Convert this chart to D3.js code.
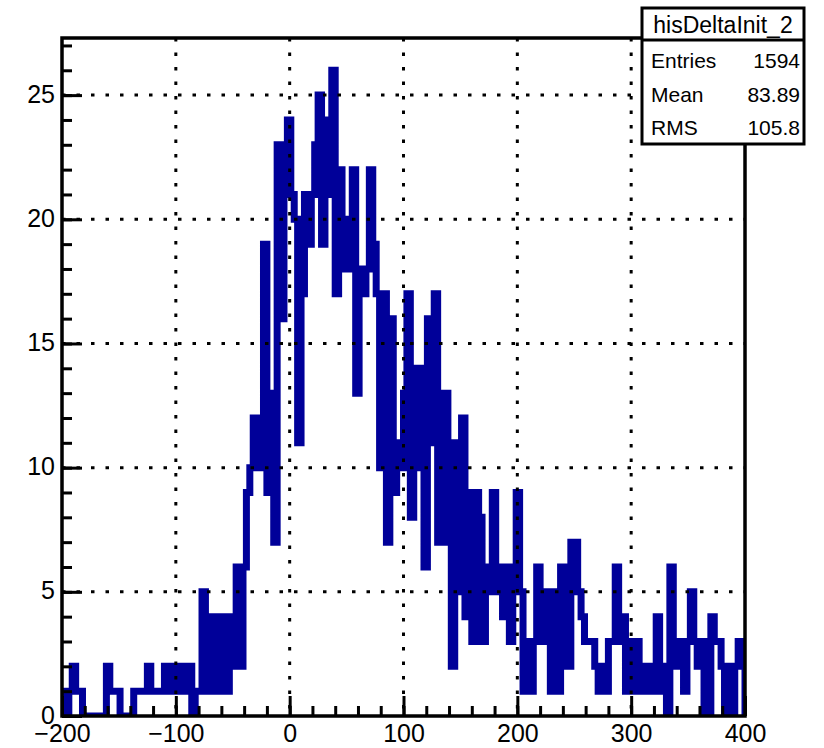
<!DOCTYPE html>
<html>
<head>
<meta charset="utf-8">
<script src="https://cdn.jsdelivr.net/npm/d3@7/dist/d3.min.js"></script>
<style>
  body { margin: 0; background: #fff; }
  text { font-family: "Liberation Sans", Arial, Helvetica, sans-serif; fill: #000; }
</style>
</head>
<body>
<svg width="824" height="748"></svg>
<script>
// histogram: 200 bins of width 3 from -200 to 400
var histName = "hisDeltaInit_2";
var xRange = [-200, 400];
var yRange = [0, 27.3];
var binWidth = 3;
var counts = [
    1, 0, 1, 2, 1, 1, 0, 0, 0, 0, 0, 0, 0, 2, 1, 1, 1, 0, 0, 0,
    0, 1, 1, 1, 1, 2, 1, 1, 1, 1, 2, 1, 2, 1, 2, 1, 2, 2, 0, 1,
    1, 5, 3, 1, 4, 1, 4, 4, 1, 4, 2, 6, 2, 6, 9, 10, 12, 10, 12, 19,
    9, 13, 7, 23, 16, 23, 24, 21, 20, 11, 17, 21, 19, 21, 23, 25, 19, 24, 21, 26,
    17, 22, 18, 20, 18, 22, 13, 18, 17, 18, 22, 19, 17, 10, 17, 7, 16, 9, 11, 10,
    13, 17, 8, 14, 10, 14, 6, 16, 11, 17, 7, 9, 13, 7, 2, 11, 5, 12, 4, 9,
    3, 9, 8, 3, 6, 5, 9, 5, 6, 4, 6, 3, 5, 9, 5, 1, 3, 1, 3, 6,
    3, 5, 3, 1, 5, 1, 6, 2, 2, 7, 7, 5, 4, 3, 3, 3, 2, 1, 2, 1,
    3, 3, 6, 3, 4, 1, 3, 1, 3, 1, 2, 1, 2, 1, 4, 2, 1, 0, 6, 3,
    2, 3, 1, 3, 5, 3, 2, 3, 0, 0, 4, 3, 3, 2, 0, 2, 0, 2, 3, 3
];
var xTicks = [-200, -100, 0, 100, 200, 300, 400];
var yTicks = [0, 5, 10, 15, 20, 25];
var xMinorStep = 20;
var yMinorStep = 1;
var statLabels = ["Entries", "Mean", "RMS"];
var statValues = ["1594", "83.89", "105.8"];

var svg = d3.select("svg"),
    margin = {top: 38, right: 79, bottom: 32, left: 62},
    width = +svg.attr("width") - margin.left - margin.right,
    height = +svg.attr("height") - margin.top - margin.bottom,
    g = svg.append("g").attr("transform", "translate(" + margin.left + "," + margin.top + ")");

var x = d3.scaleLinear().domain(xRange).range([0, width]),
    y = d3.scaleLinear().domain(yRange).range([height, 0]);

var fmt = function (d) { return d < 0 ? "\u2212" + (-d) : "" + d; };

svg.append("defs").append("clipPath").attr("id", "frame")
    .append("rect").attr("width", width).attr("height", height);

// step outline of the histogram
var pts = [[xRange[0], 0]];
counts.forEach(function (c, i) {
    var lo = xRange[0] + i * binWidth;
    pts.push([lo, c], [lo + binWidth, c]);
});
pts.push([xRange[1], 0]);

var line = d3.line()
    .x(function (d) { return x(d[0]); })
    .y(function (d) { return y(d[1]); });

g.append("path")
    .datum(pts)
    .attr("clip-path", "url(#frame)")
    .attr("d", line)
    .attr("fill", "none")
    .attr("stroke", "#000099")
    .attr("stroke-width", 7)
    .attr("stroke-linejoin", "miter");

// dotted grid on top, like ROOT
g.selectAll(".gx").data(xTicks.slice(1, -1)).enter().append("line")
    .attr("class", "gx")
    .attr("x1", function (d) { return x(d); }).attr("x2", function (d) { return x(d); })
    .attr("y1", 0).attr("y2", height);
g.selectAll(".gy").data(yTicks.slice(1)).enter().append("line")
    .attr("class", "gy")
    .attr("x1", 0).attr("x2", width)
    .attr("y1", function (d) { return y(d); }).attr("y2", function (d) { return y(d); });
g.selectAll(".gx, .gy")
    .attr("stroke", "#000")
    .attr("stroke-width", 3)
    .attr("stroke-dasharray", "3.5,11");

// minor ticks
g.append("g")
    .attr("transform", "translate(0," + height + ")")
    .call(d3.axisBottom(x).tickValues(d3.range(xRange[0], xRange[1] + 1, xMinorStep))
        .tickSizeInner(-10).tickSizeOuter(0).tickFormat(""));
g.append("g")
    .call(d3.axisLeft(y).tickValues(d3.range(0, yRange[1], yMinorStep))
        .tickSizeInner(-10).tickSizeOuter(0).tickFormat(""));

// major ticks and labels
g.append("g")
    .attr("class", "axis axis--x")
    .attr("transform", "translate(0," + height + ")")
    .call(d3.axisBottom(x).tickValues(xTicks).tickSizeInner(-20).tickSizeOuter(0)
        .tickPadding(8).tickFormat(fmt));
g.append("g")
    .attr("class", "axis axis--y")
    .call(d3.axisLeft(y).tickValues(yTicks).tickSizeInner(-20).tickSizeOuter(0)
        .tickPadding(7).tickFormat(fmt));

g.selectAll(".tick line").attr("stroke", "#000").attr("stroke-width", 3);
g.selectAll(".domain").remove();
g.selectAll(".axis text")
    .style("font-family", "'Liberation Sans', Arial, sans-serif")
    .style("font-size", "25px")
    .attr("fill", "#000");
g.selectAll(".axis--x text").attr("dy", "0.7em");
g.selectAll(".axis--y text").attr("dy", "0.28em");

// frame
g.append("rect")
    .attr("width", width).attr("height", height)
    .attr("fill", "none").attr("stroke", "#000").attr("stroke-width", 3.5);

// stats box
var box = svg.append("g").attr("transform", "translate(642,8)");
box.append("rect")
    .attr("width", 162).attr("height", 136)
    .attr("fill", "#fff").attr("stroke", "#000").attr("stroke-width", 3);
box.append("line")
    .attr("x1", 0).attr("x2", 162).attr("y1", 32).attr("y2", 32)
    .attr("stroke", "#000").attr("stroke-width", 3);
box.append("text")
    .attr("x", 81).attr("y", 25)
    .attr("text-anchor", "middle")
    .style("font-size", "23px")
    .text(histName);
box.selectAll(".slab").data(statLabels).enter().append("text")
    .attr("x", 9)
    .attr("y", function (d, i) { return 60 + i * 33.5; })
    .style("font-size", "21px")
    .text(function (d) { return d; });
box.selectAll(".sval").data(statValues).enter().append("text")
    .attr("x", 158)
    .attr("y", function (d, i) { return 60 + i * 33.5; })
    .attr("text-anchor", "end")
    .style("font-size", "21px")
    .text(function (d) { return d; });
</script>
</body>
</html>
